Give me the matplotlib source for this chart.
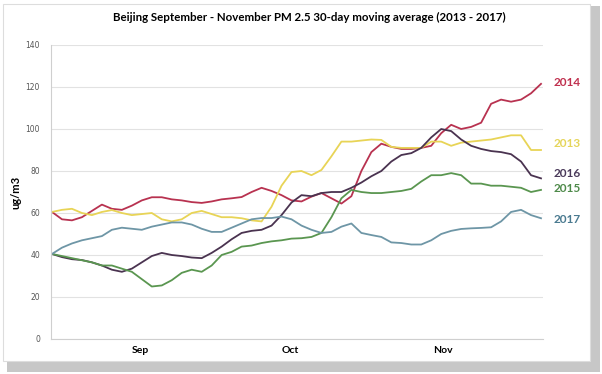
import matplotlib.pyplot as plt
from matplotlib.patches import Rectangle

# sample positions (days from start of plotted window, every 2 days)
days = list(range(0, 100, 2))

pm_2014 = [60.5, 57, 56.5, 58, 61, 64, 62, 61.5, 63.5, 66,
           67.5, 67.5, 66.5, 66, 65.2, 64.8, 65.5, 66.5, 67, 67.6,
           70, 72, 70.5, 68.5, 66, 65.5, 67.8, 69.5, 67, 64.5,
           68, 80, 89, 93, 91.5, 90.5, 90.5, 91, 92, 98,
           102, 100, 101, 103, 112, 114, 113, 114, 117, 121.5]
pm_2013 = [60.5, 61.5, 62, 60, 59, 60.5, 61.4, 60, 59, 59.5,
           60, 57, 56, 57, 60, 61, 59.5, 58, 58, 57.5,
           56.5, 56, 63, 73, 79.5, 80, 78, 80.5, 87, 94,
           94, 94.5, 95, 94.8, 91.5, 91, 91, 91, 94, 94,
           92, 93.5, 94, 94.5, 95, 96, 97, 97, 90, 90]
pm_2016 = [40.5, 39, 38, 37.6, 36.5, 35, 33, 32, 33.5, 36.5,
           39.5, 41, 40, 39.5, 38.8, 38.5, 41, 44, 47.5, 50.5,
           51.5, 52, 54, 59, 65, 68.5, 68, 69.5, 70, 70,
           72, 74.5, 77.5, 80, 84.5, 87.6, 88.5, 91, 96, 100,
           99, 95, 92, 90.5, 89.5, 89, 88, 84.5, 78, 76.5]
pm_2015 = [40.5, 39.5, 38.5, 37.5, 36.5, 35, 35, 33.5, 32, 28.5,
           25, 25.5, 28, 31.5, 33, 32, 35, 40, 41.5, 44,
           44.5, 45.7, 46.5, 47, 47.8, 48, 48.6, 50.5, 58, 67,
           71, 70, 69.5, 69.5, 70, 70.5, 71.5, 75, 78, 78,
           79, 78, 74, 74, 73, 73, 72.5, 72, 70, 71]
pm_2017 = [40.5, 43.5, 45.5, 47, 48, 49, 52, 53, 52.5, 52,
           53.5, 54.5, 55.5, 55.5, 54.5, 52.5, 51, 51, 53, 55,
           57, 57.6, 57.6, 58.3, 57, 54, 52, 50.5, 51, 53.5,
           55, 50.5, 49.5, 48.6, 46, 45.7, 45, 45, 47, 50,
           51.5, 52.4, 52.7, 52.9, 53.2, 56, 60.5, 61.5, 59, 57.5]

month_pos = [17.8, 47.8, 78.4]
month_labels = ["Sep", "Oct", "Nov"]

series = [
    ("2014", pm_2014, "#b83250"),
    ("2013", pm_2013, "#e8d456"),
    ("2016", pm_2016, "#4a3350"),
    ("2015", pm_2015, "#5a9650"),
    ("2017", pm_2017, "#6e96a6"),
]
label_y = {"2014": 122, "2013": 93, "2016": 79, "2015": 71.5, "2017": 57}
label_color = {"2014": "#c0304e", "2013": "#e5d55a", "2016": "#4a3a5a",
               "2015": "#4e8a4a", "2017": "#4a7a90"}

fig = plt.figure(figsize=(6.02, 3.74), dpi=100)
fig.patch.set_facecolor("white")

# card with drop shadow
fig.patches.append(Rectangle((0.012, 0.005), 0.985, 0.98, transform=fig.transFigure,
                             facecolor="#9a9a9a", edgecolor="none", alpha=0.55, zorder=0))
fig.patches.append(Rectangle((0.005, 0.035), 0.975, 0.955, transform=fig.transFigure,
                             facecolor="white", edgecolor="#dddddd", linewidth=0.8, zorder=1))

ax = fig.add_axes([51 / 602, 35 / 374, 492 / 602, 294 / 374])
ax.set_facecolor("none")
ax.set_zorder(2)

for name, vals, col in series:
    ax.plot(days, vals, color=col, linewidth=1.3, solid_joinstyle="round")
    ax.text(100.6, label_y[name], name, color=label_color[name], fontsize=8.5,
            fontweight="bold", family="Lato", va="center", ha="left", clip_on=False)

ax.set_xlim(-0.2, 98.4)
ax.set_ylim(0, 140)
ax.set_yticks(range(0, 141, 20))
ax.yaxis.grid(True, color="#e2e2e2", linewidth=0.8)
ax.set_axisbelow(True)
ax.set_xticks(month_pos)
ax.set_xticklabels(month_labels, fontsize=7.5, fontweight="bold", family="Lato")
ax.tick_params(axis="x", length=0, pad=5)
ax.tick_params(axis="y", length=0, pad=8, labelsize=5.5, labelcolor="#555555")
for s in ["top", "right"]:
    ax.spines[s].set_visible(False)
for s in ["left", "bottom"]:
    ax.spines[s].set_color("#cfcfcf")
    ax.spines[s].set_linewidth(0.8)

ax.set_ylabel("ug/m3", fontsize=8, fontweight="bold", family="Lato", labelpad=3)
fig.text(0.513, 0.952, "Beijing September - November PM 2.5 30-day moving average (2013 - 2017)",
         ha="center", va="center", fontsize=8.3, fontweight="bold", family="Lato", zorder=3)

plt.savefig("out.png", dpi=100)
